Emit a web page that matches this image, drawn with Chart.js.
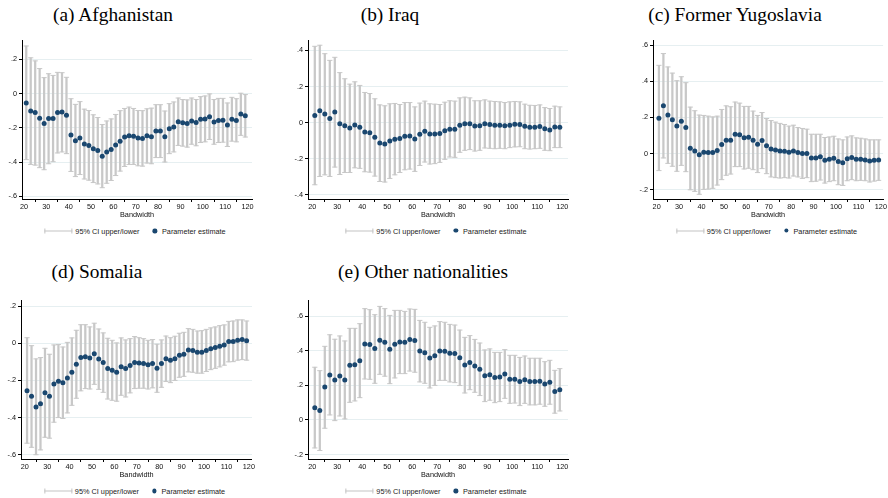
<!DOCTYPE html>
<html>
<head>
<meta charset="utf-8">
<script src="https://cdn.jsdelivr.net/npm/chart.js@4/dist/chart.umd.min.js"></script>
<style>
  html, body { margin: 0; padding: 0; background: #fff; }
  body { width: 888px; height: 498px; position: relative; overflow: hidden; }
  canvas { position: absolute; }
  .title { position: absolute; transform: translate(-50%, -50%); white-space: nowrap;
           font-family: "Liberation Serif", "Times New Roman", "DejaVu Serif", serif; font-size: 16px;
           color: #000; }
  .legend { position: absolute; transform: translate(-50%, -50%); white-space: nowrap;
            display: flex; align-items: center;
            font-family: "Liberation Sans", Arial, sans-serif; font-size: 7.3px; color: #222; }
  .ciline { position: relative; width: 28px; height: 5px; margin-right: 3px; }
  .ciline::before { content: ""; position: absolute; left: 0; right: 0; top: 2px; height: 1px; background: #c4c4c4; }
  .ciline::after { content: ""; position: absolute; left: 0; right: 0; top: 0; height: 5px;
                   border-left: 1px solid #c4c4c4; border-right: 1px solid #c4c4c4; box-sizing: border-box; }
  .dot { width: 4.5px; height: 4.5px; border-radius: 50%; background: #1a476f; margin: 0 5px 0 13px; }
</style>
</head>
<body>
<script>
// Bandwidths used in the local estimations
const bandwidth = [21, 23, 25, 27, 29, 31, 33, 35, 37, 39, 41, 43, 45, 47, 49, 51, 53, 55, 57, 59,
  61, 63, 65, 67, 69, 71, 73, 75, 77, 79, 81, 83, 85, 87, 89, 91, 93, 95, 97, 99,
  101, 103, 105, 107, 109, 111, 113, 115, 117, 119];
const xTicks = [20, 30, 40, 50, 60, 70, 80, 90, 100, 110, 120];

// Afghanistan
const afgEst = [-0.055, -0.102, -0.110, -0.144, -0.175, -0.146, -0.146, -0.110, -0.108, -0.126,
  -0.242, -0.276, -0.260, -0.294, -0.303, -0.323, -0.333, -0.366, -0.341, -0.327,
  -0.301, -0.278, -0.254, -0.246, -0.250, -0.260, -0.262, -0.247, -0.252, -0.219,
  -0.219, -0.252, -0.205, -0.195, -0.164, -0.171, -0.175, -0.160, -0.169, -0.150,
  -0.148, -0.136, -0.166, -0.158, -0.156, -0.183, -0.150, -0.158, -0.120, -0.130];
const afgHi = [0.278, 0.209, 0.191, 0.146, 0.093, 0.116, 0.106, 0.124, 0.122, 0.095,
  -0.030, -0.063, -0.047, -0.091, -0.099, -0.124, -0.140, -0.181, -0.160, -0.148,
  -0.122, -0.100, -0.087, -0.079, -0.087, -0.099, -0.100, -0.089, -0.085, -0.065,
  -0.065, -0.102, -0.059, -0.049, -0.026, -0.035, -0.037, -0.026, -0.035, -0.018,
  -0.014, -0.002, -0.035, -0.028, -0.028, -0.055, -0.022, -0.030, 0.002, -0.006];
const afgLo = [-0.386, -0.414, -0.418, -0.433, -0.445, -0.410, -0.398, -0.347, -0.341, -0.351,
  -0.455, -0.485, -0.473, -0.499, -0.506, -0.520, -0.528, -0.550, -0.524, -0.508,
  -0.479, -0.453, -0.426, -0.414, -0.414, -0.422, -0.424, -0.406, -0.410, -0.374,
  -0.374, -0.400, -0.351, -0.341, -0.303, -0.307, -0.313, -0.296, -0.305, -0.286,
  -0.282, -0.268, -0.296, -0.286, -0.284, -0.309, -0.278, -0.282, -0.244, -0.254];
const afgTicks = [-0.6, -0.4, -0.2, 0, 0.2];

// Iraq
const irqEst = [0.039, 0.065, 0.048, 0.022, 0.058, -0.006, -0.017, -0.030, -0.013, -0.026,
  -0.052, -0.056, -0.082, -0.113, -0.119, -0.102, -0.093, -0.089, -0.076, -0.074,
  -0.091, -0.065, -0.048, -0.063, -0.063, -0.061, -0.046, -0.037, -0.037, -0.015,
  -0.006, -0.006, -0.019, -0.017, -0.007, -0.011, -0.015, -0.015, -0.017, -0.015,
  -0.009, -0.011, -0.020, -0.026, -0.026, -0.022, -0.035, -0.041, -0.024, -0.026];
const irqHi = [0.423, 0.429, 0.382, 0.345, 0.362, 0.277, 0.243, 0.213, 0.226, 0.206,
  0.167, 0.161, 0.132, 0.098, 0.093, 0.104, 0.106, 0.100, 0.111, 0.111,
  0.087, 0.108, 0.119, 0.104, 0.102, 0.100, 0.113, 0.121, 0.119, 0.137,
  0.141, 0.137, 0.121, 0.121, 0.126, 0.119, 0.117, 0.115, 0.111, 0.115,
  0.117, 0.115, 0.102, 0.096, 0.095, 0.098, 0.083, 0.078, 0.091, 0.087];
const irqLo = [-0.345, -0.299, -0.290, -0.299, -0.247, -0.288, -0.277, -0.277, -0.251, -0.254,
  -0.273, -0.275, -0.297, -0.327, -0.330, -0.310, -0.290, -0.277, -0.262, -0.258,
  -0.271, -0.238, -0.219, -0.230, -0.228, -0.221, -0.204, -0.191, -0.193, -0.165,
  -0.154, -0.150, -0.158, -0.154, -0.141, -0.143, -0.145, -0.143, -0.145, -0.139,
  -0.135, -0.134, -0.145, -0.147, -0.145, -0.143, -0.154, -0.156, -0.139, -0.139];
const irqTicks = [-0.4, -0.2, 0, 0.2, 0.4];

// Former Yugoslavia
const yugEst = [0.196, 0.264, 0.213, 0.187, 0.152, 0.179, 0.144, 0.030, 0.015, -0.007,
  0.007, 0.006, 0.006, 0.017, 0.050, 0.074, 0.074, 0.107, 0.104, 0.088,
  0.091, 0.074, 0.052, 0.072, 0.043, 0.026, 0.020, 0.015, 0.013, 0.007,
  0.015, 0.006, 0.000, 0.000, -0.024, -0.024, -0.018, -0.037, -0.031, -0.026,
  -0.044, -0.050, -0.028, -0.022, -0.031, -0.031, -0.035, -0.041, -0.037, -0.035];
const yugHi = [0.488, 0.553, 0.479, 0.445, 0.403, 0.425, 0.392, 0.257, 0.237, 0.213,
  0.211, 0.207, 0.203, 0.207, 0.244, 0.264, 0.259, 0.285, 0.279, 0.261,
  0.261, 0.235, 0.211, 0.227, 0.194, 0.183, 0.174, 0.167, 0.161, 0.152,
  0.157, 0.144, 0.139, 0.135, 0.107, 0.107, 0.107, 0.089, 0.092, 0.096,
  0.081, 0.076, 0.092, 0.098, 0.087, 0.085, 0.081, 0.076, 0.076, 0.076];
const yugLo = [-0.094, -0.024, -0.054, -0.070, -0.098, -0.065, -0.100, -0.200, -0.209, -0.225,
  -0.198, -0.196, -0.192, -0.174, -0.144, -0.120, -0.113, -0.072, -0.072, -0.085,
  -0.081, -0.089, -0.105, -0.083, -0.111, -0.129, -0.133, -0.135, -0.133, -0.135,
  -0.124, -0.129, -0.137, -0.133, -0.155, -0.153, -0.146, -0.163, -0.155, -0.150,
  -0.172, -0.176, -0.150, -0.144, -0.150, -0.148, -0.150, -0.157, -0.152, -0.148];
const yugTicks = [-0.2, 0, 0.2, 0.4, 0.6];

// Somalia
const somEst = [-0.255, -0.285, -0.343, -0.326, -0.267, -0.285, -0.219, -0.204, -0.213, -0.187,
  -0.156, -0.113, -0.077, -0.072, -0.079, -0.056, -0.084, -0.104, -0.136, -0.145,
  -0.156, -0.126, -0.136, -0.120, -0.104, -0.106, -0.109, -0.116, -0.109, -0.135,
  -0.109, -0.083, -0.091, -0.083, -0.065, -0.059, -0.036, -0.039, -0.048, -0.048,
  -0.039, -0.030, -0.023, -0.016, -0.009, 0.009, 0.009, 0.016, 0.020, 0.014];
const somHi = [0.030, -0.013, -0.084, -0.077, -0.027, -0.059, -0.009, -0.007, -0.020, 0.005,
  0.029, 0.070, 0.100, 0.100, 0.088, 0.108, 0.077, 0.056, 0.027, 0.016,
  0.002, 0.029, 0.018, 0.025, 0.036, 0.030, 0.025, 0.016, 0.020, -0.005,
  0.018, 0.039, 0.030, 0.038, 0.054, 0.059, 0.079, 0.075, 0.066, 0.068,
  0.075, 0.083, 0.088, 0.095, 0.099, 0.118, 0.120, 0.126, 0.126, 0.120];
const somLo = [-0.538, -0.560, -0.600, -0.574, -0.506, -0.511, -0.425, -0.400, -0.405, -0.375,
  -0.334, -0.296, -0.256, -0.244, -0.246, -0.221, -0.248, -0.264, -0.300, -0.307,
  -0.312, -0.280, -0.289, -0.267, -0.244, -0.242, -0.242, -0.246, -0.240, -0.264,
  -0.237, -0.206, -0.212, -0.200, -0.183, -0.178, -0.154, -0.156, -0.161, -0.161,
  -0.152, -0.142, -0.135, -0.127, -0.118, -0.100, -0.099, -0.091, -0.088, -0.091];
const somTicks = [-0.6, -0.4, -0.2, 0, 0.2];

// Other nationalities
const othEst = [0.071, 0.054, 0.191, 0.260, 0.231, 0.254, 0.231, 0.316, 0.320, 0.343,
  0.440, 0.436, 0.413, 0.461, 0.449, 0.409, 0.438, 0.451, 0.449, 0.465,
  0.459, 0.399, 0.389, 0.359, 0.372, 0.399, 0.397, 0.386, 0.384, 0.360,
  0.318, 0.332, 0.312, 0.293, 0.256, 0.262, 0.245, 0.249, 0.266, 0.235,
  0.235, 0.222, 0.233, 0.222, 0.222, 0.224, 0.208, 0.218, 0.164, 0.175];
const othHi = [0.305, 0.285, 0.426, 0.493, 0.467, 0.486, 0.457, 0.530, 0.530, 0.557,
  0.644, 0.638, 0.609, 0.657, 0.644, 0.605, 0.634, 0.634, 0.628, 0.642,
  0.640, 0.576, 0.565, 0.536, 0.544, 0.569, 0.565, 0.553, 0.549, 0.520,
  0.478, 0.488, 0.466, 0.445, 0.405, 0.411, 0.391, 0.391, 0.407, 0.374,
  0.374, 0.362, 0.370, 0.357, 0.357, 0.357, 0.337, 0.345, 0.287, 0.297];
const othLo = [-0.162, -0.177, -0.048, 0.029, -0.004, 0.023, 0.006, 0.102, 0.110, 0.129,
  0.237, 0.235, 0.212, 0.264, 0.253, 0.210, 0.243, 0.268, 0.268, 0.283,
  0.276, 0.220, 0.212, 0.185, 0.200, 0.229, 0.229, 0.220, 0.216, 0.199,
  0.156, 0.175, 0.160, 0.141, 0.106, 0.114, 0.100, 0.106, 0.125, 0.096,
  0.098, 0.083, 0.096, 0.087, 0.087, 0.091, 0.079, 0.091, 0.039, 0.052];
const othTicks = [-0.2, 0, 0.2, 0.4, 0.6];

// Panel layout: plot-area rectangle (px) and axis ranges
const panels = [
  { title: '(a) Afghanistan', titleX: 113, titleY: 15, left: 22, top: 40, width: 230, height: 159,
    xMin: 19.1, xMax: 122.0, yMin: -0.616, yMax: 0.313, est: afgEst, hi: afgHi, lo: afgLo, yTicks: afgTicks },
  { title: '(b) Iraq', titleX: 390, titleY: 15, left: 308, top: 40, width: 260, height: 158.5,
    xMin: 18.28, xMax: 122.28, yMin: -0.424, yMax: 0.458, est: irqEst, hi: irqHi, lo: irqLo, yTicks: irqTicks },
  { title: '(c) Former Yugoslavia', titleX: 735, titleY: 15, left: 653, top: 40, width: 231, height: 158.5,
    xMin: 18.36, xMax: 121.0, yMin: -0.251, yMax: 0.628, est: yugEst, hi: yugHi, lo: yugLo, yTicks: yugTicks },
  { title: '(d) Somalia', titleX: 97, titleY: 272, left: 21, top: 300, width: 231, height: 159,
    xMin: 18.3, xMax: 121.4, yMin: -0.623, yMax: 0.233, est: somEst, hi: somHi, lo: somLo, yTicks: somTicks },
  { title: '(e) Other nationalities', titleX: 423, titleY: 272, left: 308, top: 300, width: 260, height: 159,
    xMin: 18.28, xMax: 122.28, yMin: -0.226, yMax: 0.694, est: othEst, hi: othHi, lo: othLo, yTicks: othTicks }
];

const NAVY = '#1a476f';
const CI_GREY = '#c8c8c8';
const GRID = '#e6eff1';
const SANS = '"Liberation Sans", Arial, Helvetica, sans-serif';
const TITLE_WIDTH_A = 120;   // rendered width of the first caption, sets the caption font size

function stataLabel(v) {
  if (Math.abs(v) < 1e-9) return '0';
  const s = Math.abs(v).toFixed(1).replace(/^0/, '');
  return (v < 0 ? '-' : '') + s;
}

function drawPanel(p) {
  const padTop = 8, axisW = 24, axisH = 20, padRight = 4;
  const canvas = document.createElement('canvas');
  canvas.width = Math.round(p.width + axisW + padRight);
  canvas.height = Math.round(p.height + padTop + axisH);
  canvas.style.left = (p.left - axisW) + 'px';
  canvas.style.top = (p.top - padTop) + 'px';
  document.body.appendChild(canvas);

  const caps = [];
  bandwidth.forEach((b, i) => { caps.push({ x: b, y: p.hi[i] }); caps.push({ x: b, y: p.lo[i] }); });

  new Chart(canvas, {
    type: 'scatter',
    data: {
      datasets: [
        { type: 'scatter', label: 'Parameter estimate', order: 0,
          data: bandwidth.map((b, i) => ({ x: b, y: p.est[i] })),
          pointRadius: 2.5, pointBackgroundColor: NAVY, pointBorderWidth: 0, pointHoverRadius: 2.5 },
        { type: 'scatter', label: 'CI caps', order: 1, data: caps,
          pointStyle: 'line', pointRadius: 2.6, pointBorderColor: CI_GREY, pointBorderWidth: 1,
          pointHoverRadius: 2.6 },
        { type: 'bar', label: '95% CI upper/lower', order: 2, grouped: false,
          data: bandwidth.map((b, i) => ({ x: b, y: [p.lo[i], p.hi[i]] })),
          backgroundColor: CI_GREY, borderWidth: 0, barThickness: 1.6 }
      ]
    },
    options: {
      responsive: false, animation: false, devicePixelRatio: 1,
      layout: { padding: { left: 0, top: padTop, right: padRight, bottom: 0 } },
      plugins: { legend: { display: false }, tooltip: { enabled: false } },
      events: [],
      scales: {
        x: {
          type: 'linear', min: p.xMin, max: p.xMax, offset: false,
          afterBuildTicks: s => { s.ticks = xTicks.map(v => ({ value: v })); },
          afterFit: s => { s.height = axisH; },
          grid: { drawOnChartArea: false, drawTicks: true, tickLength: 3, tickColor: '#000', color: '#000' },
          border: { display: true, color: '#000', width: 1 },
          ticks: { font: { family: SANS, size: 7.3 }, color: '#111', padding: 1, maxRotation: 0, autoSkip: false,
                   callback: v => String(v) },
          title: { display: true, text: 'Bandwidth', font: { family: SANS, size: 7.3 }, color: '#111',
                   padding: { top: 0, bottom: 0 } }
        },
        y: {
          type: 'linear', min: p.yMin, max: p.yMax,
          afterBuildTicks: s => { s.ticks = p.yTicks.map(v => ({ value: v })); },
          afterFit: s => { s.width = axisW; },
          grid: { drawOnChartArea: true, drawTicks: true, tickLength: 3, tickColor: '#000', color: GRID, lineWidth: 1 },
          border: { display: true, color: '#000', width: 1 },
          ticks: { font: { family: SANS, size: 7.3 }, color: '#111', padding: 2, autoSkip: false,
                   callback: v => stataLabel(v) }
        }
      }
    }
  });

  const t = document.createElement('div');
  t.className = 'title';
  t.textContent = p.title;
  t.style.left = p.titleX + 'px';
  t.style.top = p.titleY + 'px';
  document.body.appendChild(t);

  const lg = document.createElement('div');
  lg.className = 'legend';
  lg.style.left = (p.left + p.width / 2 - 2) + 'px';
  lg.style.top = (p.top + p.height + 32) + 'px';
  lg.innerHTML = '<span class="ciline"></span><span>95% CI upper/lower</span>' +
                 '<span class="dot"></span><span>Parameter estimate</span>';
  document.body.appendChild(lg);
  return t;
}

const titles = panels.map(drawPanel);
// Size the captions so the first one spans its intended width
const baseW = titles[0].getBoundingClientRect().width;
const size = 16 * TITLE_WIDTH_A / baseW;
titles.forEach(t => { t.style.fontSize = size.toFixed(2) + 'px'; });
</script>
</body>
</html>
